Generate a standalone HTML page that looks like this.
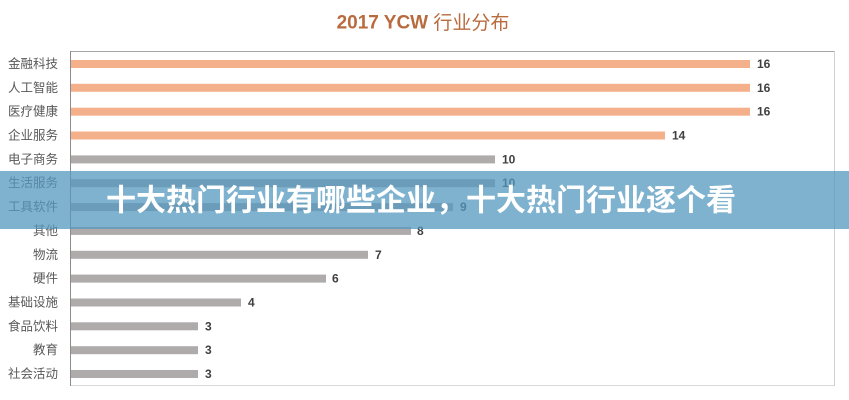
<!DOCTYPE html>
<html><head><meta charset="utf-8"><style>
html,body{margin:0;padding:0;background:#fff;}
svg{display:block;}
</style></head><body>
<svg width="849" height="400" viewBox="0 0 849 400" xmlns="http://www.w3.org/2000/svg">
<rect width="849" height="400" fill="#fff"/>
<text x="423" y="23" text-anchor="middle" dominant-baseline="central" font-family="'Liberation Sans','Noto Sans CJK SC',sans-serif" font-size="19" font-weight="bold" fill="#b96b3e">2017 YCW <tspan font-weight="normal">行业分布</tspan></text>
<!-- plot frame -->
<line x1="70" y1="51.5" x2="834" y2="51.5" stroke="#a6a6a6" stroke-width="1"/>
<line x1="834.5" y1="51" x2="834.5" y2="386" stroke="#d0d0d0" stroke-width="1"/>
<line x1="70" y1="385.5" x2="834" y2="385.5" stroke="#d9d9d9" stroke-width="1"/>
<line x1="70.5" y1="51" x2="70.5" y2="386" stroke="#8c8c8c" stroke-width="1"/>
<g font-family="'Liberation Sans','Noto Sans CJK SC',sans-serif">
<!-- bars -->
<g>
<rect x="71" y="60" width="679" height="8" fill="#f4b08b"/>
<rect x="71" y="83.8" width="679" height="8" fill="#f4b08b"/>
<rect x="71" y="107.7" width="679" height="8" fill="#f4b08b"/>
<rect x="71" y="131.5" width="594" height="8" fill="#f4b08b"/>
<rect x="71" y="155.4" width="424" height="8" fill="#afabab"/>
<rect x="71" y="179.2" width="424" height="8" fill="#afabab"/>
<rect x="71" y="203.1" width="382" height="8" fill="#afabab"/>
<rect x="71" y="226.9" width="340" height="8" fill="#afabab"/>
<rect x="71" y="250.8" width="297" height="8" fill="#afabab"/>
<rect x="71" y="274.6" width="255" height="8" fill="#afabab"/>
<rect x="71" y="298.5" width="170" height="8" fill="#afabab"/>
<rect x="71" y="322.3" width="127" height="8" fill="#afabab"/>
<rect x="71" y="346.2" width="127" height="8" fill="#afabab"/>
<rect x="71" y="370" width="127" height="8" fill="#afabab"/>
</g>
<!-- category labels -->
<g font-size="12.5" fill="#595959" text-anchor="end" dominant-baseline="central">
<text x="58" y="64">金融科技</text>
<text x="58" y="87.8">人工智能</text>
<text x="58" y="111.7">医疗健康</text>
<text x="58" y="135.5">企业服务</text>
<text x="58" y="159.4">电子商务</text>
<text x="58" y="183.2">生活服务</text>
<text x="58" y="207.1">工具软件</text>
<text x="58" y="230.9">其他</text>
<text x="58" y="254.8">物流</text>
<text x="58" y="278.6">硬件</text>
<text x="58" y="302.5">基础设施</text>
<text x="58" y="326.3">食品饮料</text>
<text x="58" y="350.2">教育</text>
<text x="58" y="374">社会活动</text>
</g>
<!-- value labels -->
<g font-size="12" font-weight="bold" fill="#404040" dominant-baseline="central">
<text x="757" y="64">16</text>
<text x="757" y="87.8">16</text>
<text x="757" y="111.7">16</text>
<text x="672" y="135.5">14</text>
<text x="502" y="159.4">10</text>
<text x="502" y="183.2">10</text>
<text x="460" y="207.1">9</text>
<text x="417" y="230.9">8</text>
<text x="375" y="254.8">7</text>
<text x="332" y="278.6">6</text>
<text x="248" y="302.5">4</text>
<text x="205" y="326.3">3</text>
<text x="205" y="350.2">3</text>
<text x="205" y="374">3</text>
</g>
</g>
<!-- overlay banner -->
<rect x="0" y="171" width="849" height="58" fill="rgb(84,152,191)" fill-opacity="0.75"/>
<text x="421" y="201" text-anchor="middle" dominant-baseline="central" font-family="'Liberation Sans','Noto Sans CJK SC',sans-serif" font-size="30" font-weight="bold" fill="#ffffff">十大热门行业有哪些企业，十大热门行业逐个看</text>
</svg>
</body></html>
